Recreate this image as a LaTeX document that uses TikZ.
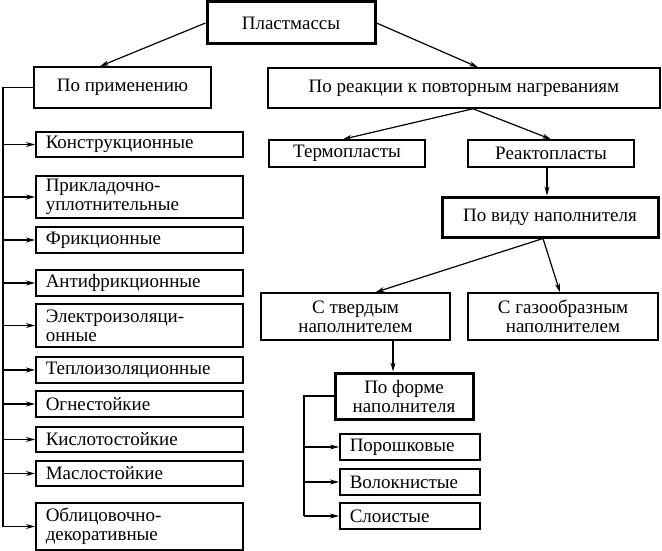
\documentclass[tikz,border=0pt]{standalone}
\usepackage{fontspec}
\setmainfont{Liberation Serif}
\usetikzlibrary{arrows.meta}
\tikzset{
  box/.style={draw, line width=1.5pt, inner sep=0pt, align=center, font=\fontsize{19}{19}\selectfont},
  thickbox/.style={box, line width=3pt},
  item/.style={box, anchor=west, text width=187pt, inner xsep=10pt, align=left},
  subitem/.style={box, anchor=west, text width=120pt, inner xsep=10pt, align=left},
  arr/.style={line width=1.2pt, -{Stealth[length=9pt,width=5pt]}},
}
\begin{document}
\begin{tikzpicture}[x=1pt,y=-1pt]
  \useasboundingbox (0,0) rectangle (662,551);
  \node (plast) at (291,23) [thickbox, minimum width=168pt, minimum height=42pt] {Пластмассы};
  \node (primen) at (122.5,87.5) [box, minimum width=177pt, minimum height=41pt] {По применению};
  \node (reakc) at (464,88) [box, minimum width=392pt, minimum height=40pt] {По реакции к повторным нагреваниям};
  \node (termo) at (347,153.5) [box, minimum width=156pt, minimum height=27pt] {Термопласты};
  \node (reakto) at (551,153.5) [box, minimum width=166pt, minimum height=27pt] {Реактопласты};
  \node (vid) at (550,217) [thickbox, minimum width=216pt, minimum height=40pt] {По виду наполнителя};
  \node (tverd) at (355.5,316.5) [box, minimum width=189pt, minimum height=47pt] {С твердым\\наполнителем};
  \node (gaz) at (563,316.5) [box, minimum width=190pt, minimum height=47pt] {С газообразным\\наполнителем};
  \node (forma) at (404,396) [thickbox, minimum width=138pt, minimum height=46pt] {По форме\\наполнителя};
  \foreach \nm/\yc/\txt in {porosh/447/Порошковые, volok/482/Волокнистые, sloist/516/Слоистые} {
      \node (\nm) at (339,\yc) [subitem, minimum height=26pt] {\txt};
    }
  \foreach \nm/\yc/\h/\txt in {konstr/144.5/25/Конструкционные,
      prikl/197/42/{Прикладочно-\\уплотнительные},
      frik/240/26/Фрикционные,
      antifr/283/26/Антифрикционные,
      elektro/325.5/43/{Электроизоляци-\\онные},
      teplo/370/26/Теплоизоляционные,
      ogne/404/26/Огнестойкие,
      kislo/439.5/25/Кислотостойкие,
      maslo/473.5/25/Маслостойкие,
      oblic/526.5/47/{Облицовочно-\\декоративные}} {
      \node (\nm) at (35,\yc) [item, minimum height=\h pt] {\txt};
    }
  \coordinate (lx) at (3,0);
  \coordinate (fx) at (304,0);
  \draw[arr] (plast.west) -- ([xshift=-22.5pt]primen.north);
  \draw[arr] (plast.east) -- ([xshift=14pt]reakc.north);
  \draw[arr] ([xshift=9pt]reakc.south) -- ([xshift=-4pt]termo.north);
  \draw[arr] ([xshift=9pt]reakc.south) -- (reakto.north);
  \draw[arr] ([xshift=-4pt]reakto.south) -- ([xshift=-4pt]reakto.south |- vid.north);
  \draw[arr] ([xshift=-7pt]vid.south) -- ([xshift=20pt]tverd.north);
  \draw[arr] ([xshift=-7pt]vid.south) -- ([xshift=-3pt]gaz.north);
  \draw[arr] ([xshift=-11pt]forma.north |- tverd.south) -- ([xshift=-11pt]forma.north);
  \draw[line width=1.5pt] (primen.west) -- (primen.west -| lx) -- (oblic.west -| lx);
  \foreach \nm in {konstr,prikl,frik,antifr,elektro,teplo,ogne,kislo,maslo,oblic} {
      \draw[arr] (\nm.west -| lx) -- (\nm.west);
    }
  \draw[line width=1.5pt] (forma.west) -- (forma.west -| fx) -- (sloist.west -| fx);
  \foreach \nm in {porosh,volok,sloist} {
      \draw[arr] (\nm.west -| fx) -- (\nm.west);
    }
\end{tikzpicture}
\end{document}
